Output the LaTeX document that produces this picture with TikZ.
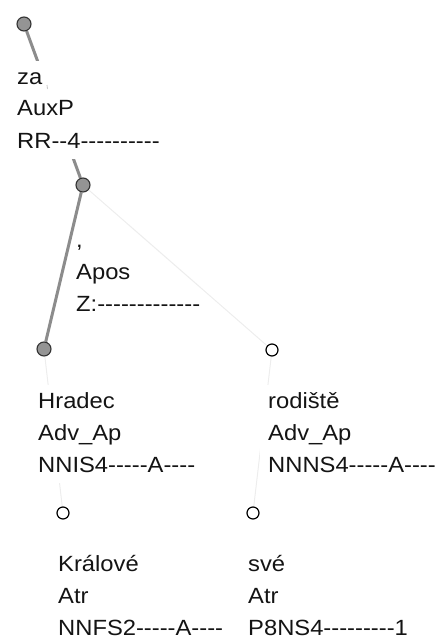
\documentclass[tikz,border=0pt]{standalone}
\usepackage{fontspec}
\setmainfont{Liberation Sans}[FakeStretch=1.08,Ligatures=TeXOff]
\pgfdeclarelayer{bg}
\pgfdeclarelayer{lbl}
\pgfsetlayers{bg,lbl,main}
\begin{document}
\begin{tikzpicture}[x=1pt,y=-1pt,
  fdot/.style={circle,draw=black!80,fill=black!42,line width=1.1pt,minimum size=14pt,inner sep=0pt},
  odot/.style={circle,draw=black,fill=white,line width=1.2pt,minimum size=12pt,inner sep=0pt},
  lbl/.style={anchor=base west,fill=white,inner sep=1pt,text=black!92,font=\fontsize{22}{32}\selectfont},
  strong/.style={draw=black!45,line width=3pt},
  faint/.style={draw=black!7,line width=1pt}]
\useasboundingbox (0,0) rectangle (439,642);
% tree nodes
\node[fdot] (za) at (24,24) {};
\node[fdot] (comma) at (83,185) {};
\node[fdot] (hradec) at (44,349) {};
\node[odot] (rodiste) at (272,350) {};
\node[odot] (kralove) at (63,513) {};
\node[odot] (sve) at (253,513) {};
% edges partly hidden behind labels
\begin{pgfonlayer}{bg}
\draw[strong] (za) -- (comma);
\draw[faint] (hradec) -- (kralove);
\draw[faint] (rodiste) -- (sve);
\end{pgfonlayer}
\begin{pgfonlayer}{lbl}
\node[lbl] (zaL) at (16,84) {\begin{tabular}[t]{@{}l@{}}za\\AuxP\\RR--4----------\end{tabular}};
\node[lbl] (commaL) at (75,247) {\begin{tabular}[t]{@{}l@{}},\\Apos\\Z:-------------\end{tabular}};
\node[lbl] (hradecL) at (37,408) {\begin{tabular}[t]{@{}l@{}}Hradec\\Adv\_Ap\\NNIS4-----A----\end{tabular}};
\node[lbl,inner xsep=8pt] (rodisteL) at (260,408) {\begin{tabular}[t]{@{}l@{}}rodiště\\Adv\_Ap\\NNNS4-----A----\end{tabular}};
\node[lbl] (kraloveL) at (57,571) {\begin{tabular}[t]{@{}l@{}}Králové\\Atr\\NNFS2-----A----\end{tabular}};
\node[lbl] (sveL) at (247,571) {\begin{tabular}[t]{@{}l@{}}své\\Atr\\P8NS4---------1\end{tabular}};
\draw[strong] (comma) -- (hradec);
\draw[faint] (comma) -- (rodiste);
\end{pgfonlayer}
\draw[black!30,line width=0.6pt] (47,85) -- (47.4,89);
\end{tikzpicture}
\end{document}
